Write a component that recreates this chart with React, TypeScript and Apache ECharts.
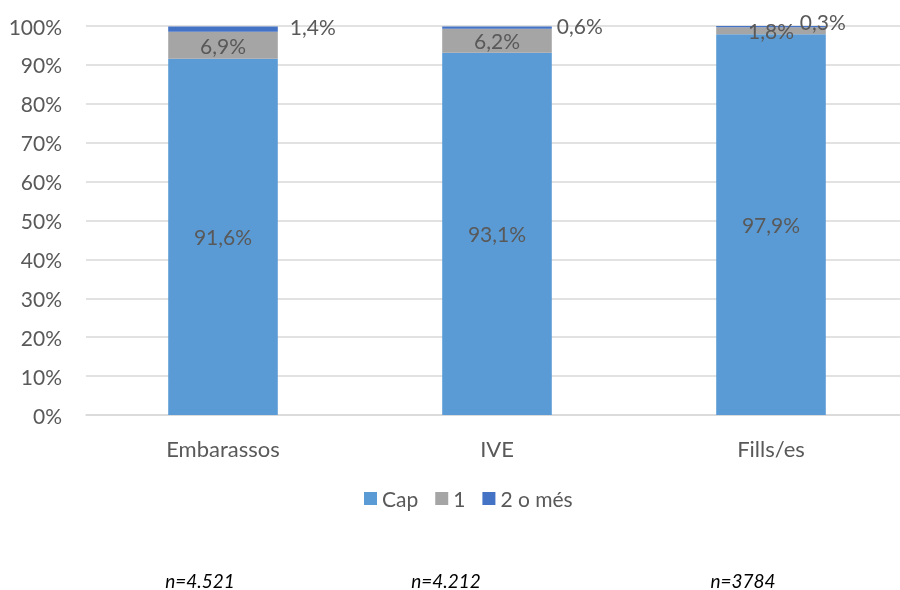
import React, { useEffect, useRef } from "react";
import * as echarts from "echarts";

const categories = ["Embarassos", "IVE", "Fills/es"];
const capValues = [91.6, 93.1, 97.9];
const oneValues = [6.9, 6.2, 1.8];
const twoMoreValues = [1.4, 0.6, 0.3];
const seriesNames = ["Cap", "1", "2 o més"];
const sampleLabels = ["n=4.521", "n=4.212", "n=3784"];

const FONT = "Lato, 'Open Sans', sans-serif";
const TXT = "#595959";
const FS = 21;
const fmt = (v: number) => v.toFixed(1).replace(".", ",") + "%";

export default function App() {
  const ref = useRef<HTMLDivElement>(null);
  useEffect(() => {
    if (!ref.current) return;
    const chart = echarts.init(ref.current, null, { renderer: "svg" });
    const twoLabelCfg = [
      { position: "right", distance: 12, offset: [0, -3] },
      { position: "right", distance: 5, offset: [0, -2] },
      { position: "right", distance: 5, offset: [-31, -5] },
    ];
    chart.setOption({
      animation: false,
      textStyle: { fontFamily: FONT },
      grid: { left: 86, right: 8, top: 26, bottom: 175, containLabel: false },
      legend: {
        top: 483,
        left: 359,
        itemWidth: 13,
        itemHeight: 13,
        itemGap: 17,
        icon: "rect",
        textStyle: { fontSize: FS, color: TXT, fontFamily: FONT },
        data: seriesNames,
      },
      xAxis: {
        type: "category",
        data: categories,
        axisLine: { lineStyle: { color: "#d9d9d9", width: 1.5 } },
        axisTick: { show: false },
        axisLabel: { fontSize: 22, color: TXT, margin: 22, fontFamily: FONT },
      },
      yAxis: {
        type: "value",
        min: 0,
        max: 100,
        interval: 10,
        axisLabel: { formatter: "{value}%", fontSize: FS, color: TXT, margin: 24, fontFamily: FONT },
        splitLine: { lineStyle: { color: "#d9d9d9", width: 1.5 } },
        axisLine: { show: false },
        axisTick: { show: false },
      },
      series: [
        {
          name: seriesNames[0],
          type: "bar",
          stack: "all",
          barWidth: "40%",
          itemStyle: { color: "#5B9BD5" },
          label: { show: true, position: "inside", fontSize: FS, color: TXT, fontFamily: FONT, formatter: (p: any) => fmt(p.value) },
          data: capValues,
        },
        {
          name: seriesNames[1],
          type: "bar",
          stack: "all",
          itemStyle: { color: "#A5A5A5" },
          label: { show: true, position: "inside", fontSize: FS, color: TXT, fontFamily: FONT, formatter: (p: any) => fmt(p.value) },
          data: oneValues,
        },
        {
          name: seriesNames[2],
          type: "bar",
          stack: "all",
          itemStyle: { color: "#4472C4" },
          label: { show: true, fontSize: FS, color: TXT, fontFamily: FONT, formatter: (p: any) => fmt(p.value) },
          data: twoMoreValues.map((v, i) => ({ value: v, label: twoLabelCfg[i] })),
        },
      ],
      graphic: sampleLabels.map((t, i) => ({
        type: "text",
        x: [200, 446, 743][i],
        y: 580,
        style: {
          text: t,
          fill: "#000",
          font: `italic 19px ${FONT}`,
          align: "center",
          verticalAlign: "middle",
        },
      })),
    });
    return () => chart.dispose();
  }, []);
  return (
    <div style={{ position: "fixed", left: 0, top: 0, width: 900, height: 590, overflow: "hidden" }}>
      <div ref={ref} style={{ position: "absolute", left: 0, top: 0, width: 916, height: 590 }} />
    </div>
  );
}
